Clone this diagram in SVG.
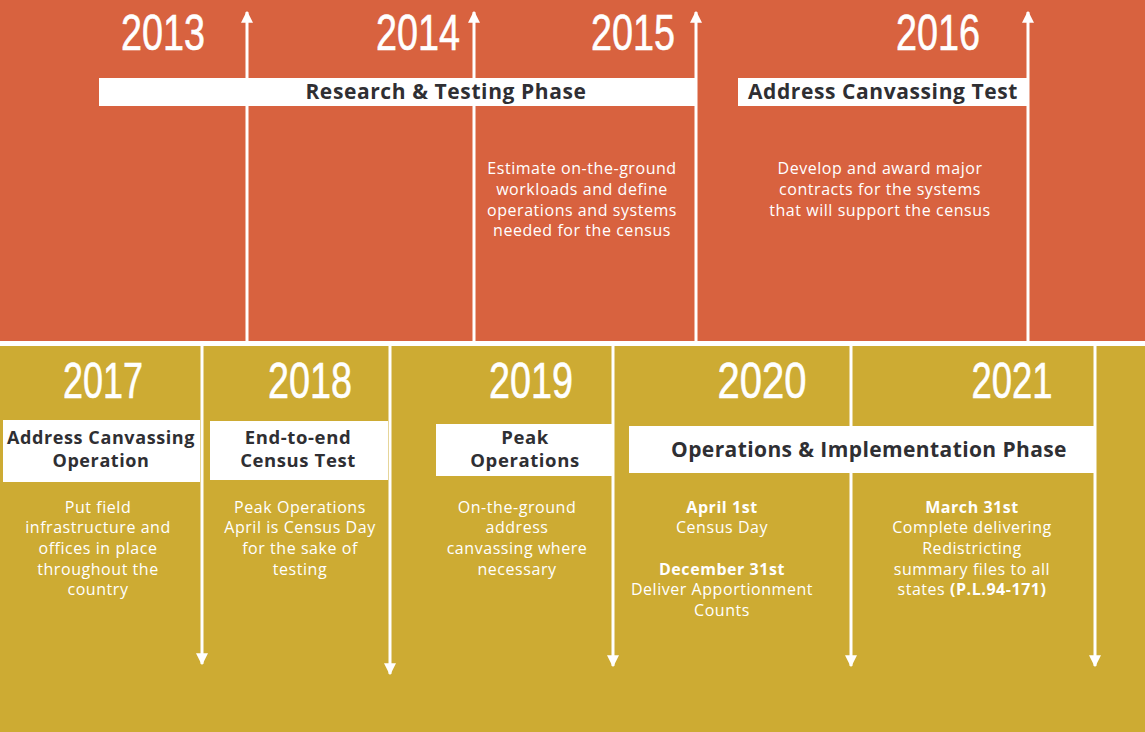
<svg xmlns="http://www.w3.org/2000/svg" width="1145" height="732" viewBox="0 0 1145 732">
<defs>
<style>
.year{font-family:"Liberation Sans",Arial,sans-serif;font-size:50px;fill:#fff;stroke:#fff;stroke-width:0.6px;text-anchor:middle}
.bar{fill:#fff}
.hd{font-family:"Open Sans","Liberation Sans",sans-serif;font-weight:700;fill:#2f2f33;text-anchor:middle;letter-spacing:0.6px}
.desc{font-family:"Open Sans","Liberation Sans",sans-serif;font-size:16px;fill:#fff;text-anchor:middle;letter-spacing:0.55px}
.b{font-weight:700}
.ln{stroke:#fff;stroke-width:3;fill:none}
</style>
<marker id="ah" viewBox="0 0 10 10" refX="9" refY="5" markerWidth="4" markerHeight="4" orient="auto" markerUnits="strokeWidth">
<path d="M0,0 L10,5 L0,10 z" fill="#fff"/>
</marker>
</defs>
<rect x="0" y="0" width="1145" height="341" fill="#D8623F"/>
<rect x="0" y="341" width="1145" height="5" fill="#fff"/>
<rect x="0" y="346" width="1145" height="386" fill="#CDAB33"/>

<g id="connectors">
<line class="ln" x1="247" y1="341" x2="247" y2="12" marker-end="url(#ah)"/>
<line class="ln" x1="474" y1="341" x2="474" y2="12" marker-end="url(#ah)"/>
<line class="ln" x1="696" y1="341" x2="696" y2="12" marker-end="url(#ah)"/>
<line class="ln" x1="1028" y1="341" x2="1028" y2="12" marker-end="url(#ah)"/>
<line class="ln" x1="202" y1="345" x2="202" y2="664" marker-end="url(#ah)"/>
<line class="ln" x1="390" y1="345" x2="390" y2="674" marker-end="url(#ah)"/>
<line class="ln" x1="613" y1="345" x2="613" y2="666" marker-end="url(#ah)"/>
<line class="ln" x1="851" y1="345" x2="851" y2="666" marker-end="url(#ah)"/>
<line class="ln" x1="1095" y1="345" x2="1095" y2="666" marker-end="url(#ah)"/>
</g>

<g id="y2013"><text class="year" x="163" y="50" textLength="84" lengthAdjust="spacingAndGlyphs">2013</text></g>
<g id="y2014"><text class="year" x="418" y="50" textLength="84" lengthAdjust="spacingAndGlyphs">2014</text></g>
<g id="y2015"><text class="year" x="633" y="50" textLength="84" lengthAdjust="spacingAndGlyphs">2015</text></g>
<g id="y2016"><text class="year" x="938" y="50" textLength="84" lengthAdjust="spacingAndGlyphs">2016</text></g>

<g id="research-phase">
<rect class="bar" x="99" y="78" width="597" height="28"/>
<text class="hd" x="446" y="99" font-size="21">Research &amp; Testing Phase</text>
</g>
<g id="address-canvassing-test">
<rect class="bar" x="738" y="78" width="289" height="28"/>
<text class="hd" x="883" y="99" font-size="21">Address Canvassing Test</text>
</g>
<g id="desc2015">
<text class="desc" x="582" y="174">Estimate on-the-ground</text>
<text class="desc" x="582" y="195">workloads and define</text>
<text class="desc" x="582" y="216">operations and systems</text>
<text class="desc" x="582" y="236">needed for the census</text>
</g>
<g id="desc2016">
<text class="desc" x="880" y="174">Develop and award major</text>
<text class="desc" x="880" y="195">contracts for the systems</text>
<text class="desc" x="880" y="216">that will support the census</text>
</g>

<g id="y2017"><text class="year" x="103" y="398" textLength="80" lengthAdjust="spacingAndGlyphs">2017</text></g>
<g id="y2018"><text class="year" x="310" y="398" textLength="84" lengthAdjust="spacingAndGlyphs">2018</text></g>
<g id="y2019"><text class="year" x="531" y="398" textLength="84" lengthAdjust="spacingAndGlyphs">2019</text></g>
<g id="y2020"><text class="year" x="762" y="398" textLength="89" lengthAdjust="spacingAndGlyphs">2020</text></g>
<g id="y2021"><text class="year" x="1012" y="398" textLength="81" lengthAdjust="spacingAndGlyphs">2021</text></g>

<g id="acop">
<rect class="bar" x="3" y="420" width="197" height="62"/>
<text class="hd" x="101" y="444" font-size="18">Address Canvassing</text>
<text class="hd" x="101" y="467" font-size="18">Operation</text>
</g>
<g id="e2e">
<rect class="bar" x="210" y="421" width="178" height="59"/>
<text class="hd" x="298" y="444" font-size="18.5">End-to-end</text>
<text class="hd" x="298" y="467" font-size="18.5">Census Test</text>
</g>
<g id="peak">
<rect class="bar" x="436" y="424" width="176" height="52"/>
<text class="hd" x="525" y="444" font-size="18.5">Peak</text>
<text class="hd" x="525" y="467" font-size="18.5">Operations</text>
</g>
<g id="ops-phase">
<rect class="bar" x="629" y="426" width="466" height="47"/>
<text class="hd" x="869" y="457" font-size="21" style="letter-spacing:0.4px">Operations &amp; Implementation Phase</text>
</g>

<g id="desc2017">
<text class="desc" x="98" y="513">Put field</text>
<text class="desc" x="98" y="533">infrastructure and</text>
<text class="desc" x="98" y="554">offices in place</text>
<text class="desc" x="98" y="575">throughout the</text>
<text class="desc" x="98" y="595">country</text>
</g>
<g id="desc2018">
<text class="desc" x="300" y="513">Peak Operations</text>
<text class="desc" x="300" y="533">April is Census Day</text>
<text class="desc" x="300" y="554">for the sake of</text>
<text class="desc" x="300" y="575">testing</text>
</g>
<g id="desc2019">
<text class="desc" x="517" y="513">On-the-ground</text>
<text class="desc" x="517" y="533">address</text>
<text class="desc" x="517" y="554">canvassing where</text>
<text class="desc" x="517" y="575">necessary</text>
</g>
<g id="desc2020">
<text class="desc b" x="722" y="513">April 1st</text>
<text class="desc" x="722" y="533">Census Day</text>
<text class="desc b" x="722" y="575">December 31st</text>
<text class="desc" x="722" y="595">Deliver Apportionment</text>
<text class="desc" x="722" y="616">Counts</text>
</g>
<g id="desc2021">
<text class="desc b" x="972" y="513">March 31st</text>
<text class="desc" x="972" y="533">Complete delivering</text>
<text class="desc" x="972" y="554">Redistricting</text>
<text class="desc" x="972" y="575">summary files to all</text>
<text class="desc" x="972" y="595">states <tspan class="b">(P.L.94-171)</tspan></text>
</g>
</svg>
